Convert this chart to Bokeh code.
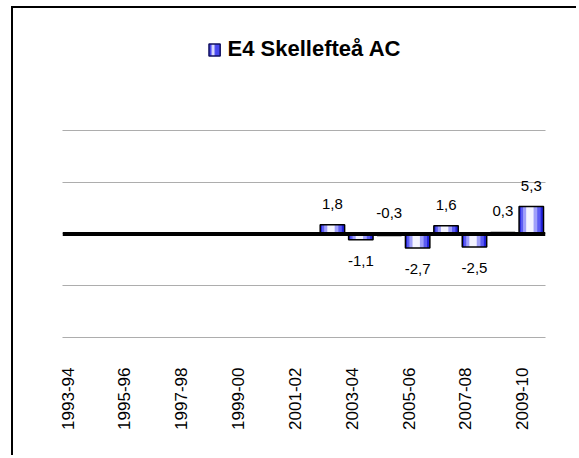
import math
from bokeh.plotting import figure
from bokeh.models import (Range1d, LinearAxis, FixedTicker, Span,
                          ColumnDataSource, Legend, LegendItem, Grid)
from bokeh.transform import dodge
from bokeh.core.properties import value
from bokeh.embed import file_html
from bokeh.resources import INLINE

# ---------------- data ----------------
seasons = ["1993-94", "1994-95", "1995-96", "1996-97", "1997-98", "1998-99",
           "1999-00", "2000-01", "2001-02", "2002-03", "2003-04", "2004-05",
           "2005-06", "2006-07", "2007-08", "2008-09", "2009-10"]
bar_seasons = ["2002-03", "2003-04", "2004-05", "2005-06",
               "2006-07", "2007-08", "2008-09", "2009-10"]
bar_values = [1.8, -1.1, -0.3, -2.7, 1.6, -2.5, 0.3, 5.3]
label_side = ["above", "below", "above", "below", "above", "below", "above", "above"]
series_name = "E4 Skellefteå AC"
grid_ticks = [-20, -10, 0, 10, 20]

# ---------------- derived ----------------
bar_x = [seasons.index(s) for s in bar_seasons]
label_text = [f"{v:.1f}".replace(".", ",") for v in bar_values]
label_anchor = [v if ((s == "above") == (v > 0)) else 0 for v, s in zip(bar_values, label_side)]
label_off = [-21 if s == "above" else 21 for s in label_side]
src = ColumnDataSource(dict(x=bar_x, season=bar_seasons, top=bar_values, lab=label_text,
                            ly=label_anchor, loff=label_off))

p = figure(width=565, height=449,
           x_range=Range1d(-0.5, len(seasons) - 0.5),
           y_range=Range1d(-20.39, 43.57),
           output_backend="svg", toolbar_location=None,
           x_axis_location=None, y_axis_location=None,
           min_border_left=49, min_border_right=33,
           min_border_top=0, min_border_bottom=118)
p.outline_line_color = None
p.background_fill_color = "white"
p.border_fill_color = "white"
p.styles = {"margin-left": "11px", "margin-top": "6px",
            "border-left": "2px solid black", "border-top": "2px solid black"}

# remove default grids, add dotted horizontal grid
p.center = [r for r in p.center if not isinstance(r, Grid)]
p.add_layout(Grid(dimension=1, ticker=FixedTicker(ticks=grid_ticks),
                  grid_line_color="#5a5a5a", grid_line_dash="1 1",
                  grid_line_width=1))

# gradient-like bars (nested layers)
bar_w = 0.86
layers = [(bar_w, "#2222dd", 0.0), (0.70, "#5c5cf2", -0.02),
          (0.50, "#a0a0fa", -0.04), (0.26, "#f4f4ff", -0.05)]
for w, c, dx in layers:
    p.vbar(x=dodge("x", dx), top="top", bottom=0, width=w,
           source=src, fill_color=c, line_color=None)
p.vbar(x="x", top="top", bottom=0, width=bar_w, source=src,
       fill_color=None, line_color="black", line_width=1.5)

# legend icon renderer (zero-height bar hidden under the zero line)
leg_src = ColumnDataSource(dict(x=[bar_x[-1]], top=[0]))
r_leg = p.vbar(x="x", top="top", bottom=0, width=0.8, source=leg_src,
               fill_color="#4848ee", line_color="#101060", line_width=1.5,
               hatch_pattern="vertical_line", hatch_color="white",
               hatch_scale=10, hatch_weight=3, hatch_alpha=0.8)

# zero line
p.add_layout(Span(location=0, dimension="width", line_color="black", line_width=4))

# data labels
p.text(x="x", y="ly", text="lab", y_offset="loff", source=src,
       text_align="center", text_baseline="middle",
       text_font=value("Liberation Sans"), text_font_size="15px",
       text_color="black")

# category axis labels (every other season)
shift = 0.32
p.extra_x_ranges = {"lab": Range1d(-0.5 + shift, len(seasons) - 0.5 + shift)}
tick_idx = list(range(0, len(seasons), 2))
ax = LinearAxis(x_range_name="lab", ticker=FixedTicker(ticks=tick_idx),
                major_label_overrides={i: seasons[i] for i in tick_idx})
ax.axis_line_color = None
ax.major_tick_line_color = None
ax.minor_tick_line_color = None
ax.major_tick_out = 0
ax.major_tick_in = 0
ax.major_label_orientation = math.pi / 2
ax.major_label_standoff = 28
ax.major_label_text_font = "Liberation Sans"
ax.major_label_text_font_size = "17px"
ax.major_label_text_color = "black"
p.add_layout(ax, "below")

# legend
legend = Legend(items=[LegendItem(label=series_name, renderers=[r_leg])],
                location="top_center", orientation="horizontal",
                glyph_width=14, glyph_height=15,
                label_text_font="Liberation Sans", label_text_font_style="bold",
                label_text_font_size="22px", label_text_color="black",
                label_standoff=7, border_line_color=None,
                background_fill_alpha=0, padding=0, margin=28)
p.add_layout(legend)

open("out.html", "w").write(file_html(p, INLINE))
